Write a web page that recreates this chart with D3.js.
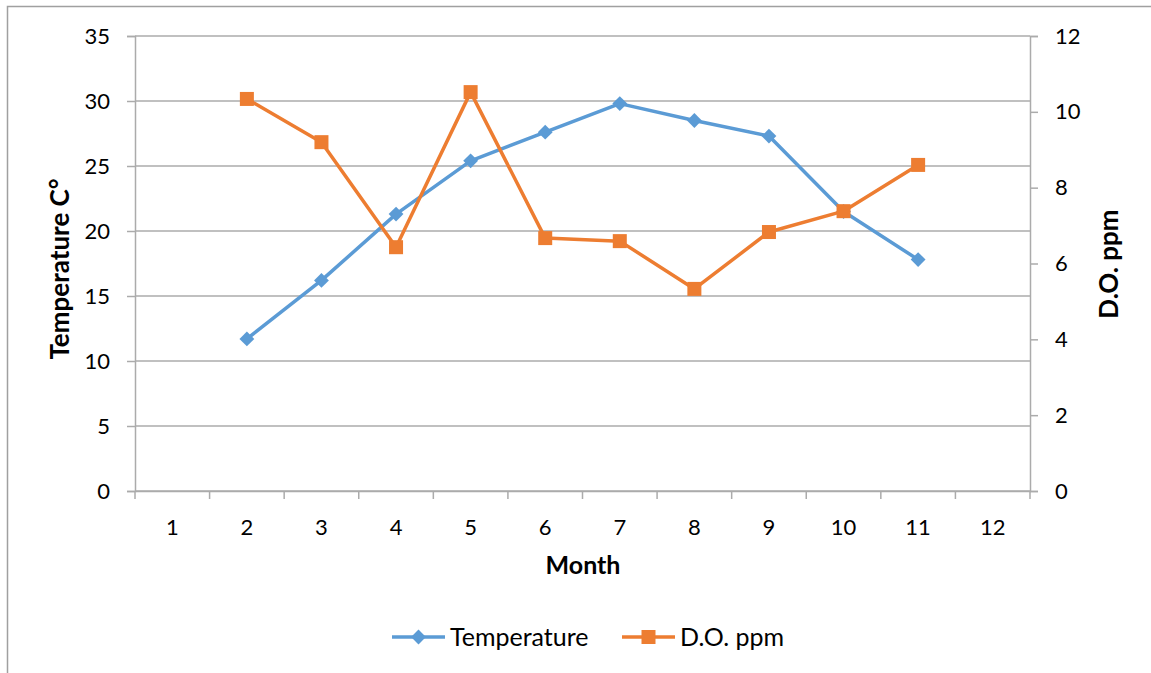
<!DOCTYPE html>
<html lang="en">
<head>
    <meta charset="utf-8">
    <title>Temperature and D.O.</title>
    <script src="https://d3js.org/d3.v7.min.js" charset="utf-8"></script>
    <style>
        body { margin: 0; background: #fff; }
        text { font-family: Lato, "Liberation Sans", sans-serif; fill: #000; }
    </style>
</head>
<body>
<script>
var months = [1, 2, 3, 4, 5, 6, 7, 8, 9, 10, 11, 12]
var tempMonths = [2, 3, 4, 5, 6, 7, 8, 9, 10, 11]
var temperature = [11.7, 16.2, 21.3, 25.4, 27.6, 29.8, 28.5, 27.3, 21.5, 17.8]
var doMonths = [2, 3, 4, 5, 6, 7, 8, 9, 10, 11]
var doPpm = [10.34, 9.2, 6.43, 10.52, 6.67, 6.59, 5.33, 6.83, 7.38, 8.6]
var leftTicks = [0, 5, 10, 15, 20, 25, 30, 35]
var rightTicks = [0, 2, 4, 6, 8, 10, 12]

var w = 1151, h = 673
var pLeft = 135, pRight = 1030, pTop = 36, pBottom = 491
var grid = "#ababab", blue = "#5b9bd5", orange = "#ed7d31"

var svg = d3.select("body").append("svg").attr("width", w).attr("height", h)

// outer chart frame (runs off the right/bottom of the picture)
svg.append("rect").attr("x", 7.5).attr("y", 6.5).attr("width", w + 20).attr("height", h + 20)
    .attr("fill", "none").attr("stroke", "#a0a0a0").attr("stroke-width", 1.5)

var x = d3.scaleBand().domain(months).range([pLeft, pRight])
var yL = d3.scaleLinear().domain([0, 35]).range([pBottom, pTop])
var yR = d3.scaleLinear().domain([0, 12]).range([pBottom, pTop])

// gridlines
svg.append("g").selectAll("line").data(leftTicks).join("line")
    .attr("x1", pLeft).attr("x2", pRight)
    .attr("y1", d => yL(d)).attr("y2", d => yL(d))
    .attr("stroke", grid).attr("stroke-width", 1.5)

// left axis
var gl = svg.append("g").attr("transform", "translate(" + pLeft + ",0)")
    .call(d3.axisLeft(yL).tickValues(leftTicks).tickSize(8).tickPadding(17))
gl.selectAll("text").style("font-size", "22px")

// right axis
var gr = svg.append("g").attr("transform", "translate(" + pRight + ",0)")
    .call(d3.axisRight(yR).tickValues(rightTicks).tickSize(8).tickPadding(17))
gr.selectAll("text").style("font-size", "22px")

// bottom axis: ticks on band edges, labels centred
var gb = svg.append("g").attr("transform", "translate(0," + pBottom + ")")
    .call(d3.axisBottom(x).tickSize(0).tickPadding(28))
gb.selectAll("text").style("font-size", "22px")
gb.append("g").selectAll("line").data(months.concat([13])).join("line")
    .attr("x1", (d, i) => pLeft + i * x.step()).attr("x2", (d, i) => pLeft + i * x.step())
    .attr("y1", 0).attr("y2", 8)
    .attr("stroke", grid).attr("stroke-width", 1.5)

svg.selectAll(".domain").attr("stroke", grid).attr("stroke-width", 1.5)
svg.selectAll(".tick line").attr("stroke", grid).attr("stroke-width", 1.5)

// axis titles
svg.append("text").attr("transform", "translate(69,269) rotate(-90)")
    .attr("text-anchor", "middle").style("font-size", "26px").style("font-weight", "bold")
    .text("Temperature C°")
svg.append("text").attr("transform", "translate(1118,264) rotate(-90)")
    .attr("text-anchor", "middle").style("font-size", "26px").style("font-weight", "bold")
    .text("D.O. ppm")
svg.append("text").attr("x", 583).attr("y", 574)
    .attr("text-anchor", "middle").style("font-size", "25px").style("font-weight", "bold")
    .text("Month")

var cx = m => x(m) + x.bandwidth() / 2

// temperature series
var tData = tempMonths.map((m, i) => [m, temperature[i]])
svg.append("path").datum(tData)
    .attr("d", d3.line().x(d => cx(d[0])).y(d => yL(d[1])))
    .attr("fill", "none").attr("stroke", blue).attr("stroke-width", 3.5).attr("stroke-linejoin", "round")
svg.append("g").selectAll("path").data(tData).join("path")
    .attr("d", d3.symbol().type(d3.symbolDiamond2).size(140))
    .attr("transform", d => "translate(" + cx(d[0]) + "," + yL(d[1]) + ")")
    .attr("fill", blue)

// D.O. series
var oData = doMonths.map((m, i) => [m, doPpm[i]])
svg.append("path").datum(oData)
    .attr("d", d3.line().x(d => cx(d[0])).y(d => yR(d[1])))
    .attr("fill", "none").attr("stroke", orange).attr("stroke-width", 3.5).attr("stroke-linejoin", "round")
svg.append("g").selectAll("rect").data(oData).join("rect")
    .attr("x", d => cx(d[0]) - 7).attr("y", d => yR(d[1]) - 7)
    .attr("width", 14).attr("height", 14)
    .attr("fill", orange)

// legend
var legend = [
    {name: "Temperature", color: blue, shape: "diamond", x: 392},
    {name: "D.O. ppm", color: orange, shape: "square", x: 622}
]
var lg = svg.append("g").selectAll("g").data(legend).join("g")
    .attr("transform", d => "translate(" + d.x + ",637)")
lg.append("line").attr("x1", 0).attr("x2", 53).attr("y1", 0).attr("y2", 0)
    .attr("stroke", d => d.color).attr("stroke-width", 3.5)
lg.append("path")
    .attr("d", d => d.shape == "diamond" ? d3.symbol().type(d3.symbolDiamond2).size(140)() : "M-7,-7H7V7H-7Z")
    .attr("transform", "translate(26.5,0)")
    .attr("fill", d => d.color)
lg.append("text").attr("x", 58).attr("y", 9).style("font-size", "25px").text(d => d.name)
</script>
</body>
</html>
